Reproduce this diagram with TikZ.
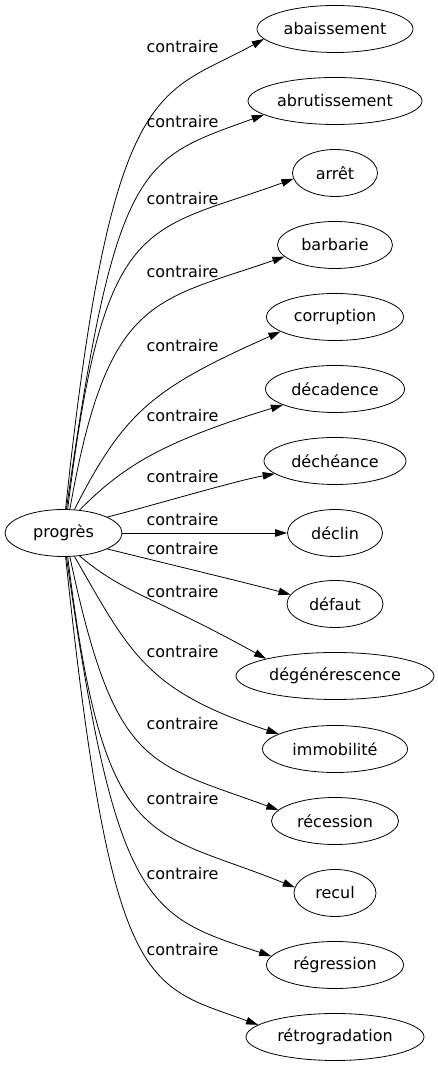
\documentclass[tikz,border=0pt]{standalone}
\usepackage{fontspec}
\setmainfont{DejaVu Sans}
\usepackage{tikz}
\usetikzlibrary{arrows.meta}
\usetikzlibrary{shapes.geometric}

\begin{document}
\begin{tikzpicture}[x=1pt,y=1pt,
	word/.style={ellipse,draw=black,line width=0.8pt,inner sep=0pt,minimum height=47pt,font=\fontsize{16}{19}\selectfont},
	rel/.style={font=\fontsize{16}{19}\selectfont,inner sep=0pt},
	edge/.style={draw=black,line width=0.8pt,-{Triangle[length=12pt,width=7.5pt]}}]
		\useasboundingbox (0,0) rectangle (438,1067);
		%elements
		\node [word, minimum width=117pt] at (63.5,534) (prog) {progrès};

		\node [word, minimum width=156pt] at (335,1038) (abai) {abaissement};
		\node [word, minimum width=174pt] at (335,966) (abru) {abrutissement};
		\node [word, minimum width=85pt] at (335,894) (arret) {arrêt};
		\node [word, minimum width=115pt] at (335,822) (barb) {barbarie};
		\node [word, minimum width=137pt] at (335,750) (corr) {corruption};
		\node [word, minimum width=139pt] at (335,678) (deca) {décadence};
		\node [word, minimum width=142pt] at (335,606) (dech) {déchéance};
		\node [word, minimum width=95pt] at (335,534) (decl) {déclin};
		\node [word, minimum width=96pt] at (335,463) (defa) {défaut};
		\node [word, minimum width=198pt] at (335,391) (dege) {dégénérescence};
		\node [word, minimum width=145pt] at (335,318) (immo) {immobilité};
		\node [word, minimum width=127pt] at (335,246) (rece) {récession};
		\node [word, minimum width=82pt] at (335,174) (recul) {recul};
		\node [word, minimum width=137pt] at (335,102) (regr) {régression};
		\node [word, minimum width=178pt] at (335,30) (retro) {rétrogradation};

		%text
		\node [rel] at (182.5,1020) (l1) {contraire};
		\node [rel] at (182.5,945) (l2) {contraire};
		\node [rel] at (182.5,868) (l3) {contraire};
		\node [rel] at (182.5,795) (l4) {contraire};
		\node [rel] at (182.5,721) (l5) {contraire};
		\node [rel] at (182.5,651) (l6) {contraire};
		\node [rel] at (182.5,590) (l7) {contraire};
		\node [rel] at (182.5,547) (l8) {contraire};
		\node [rel] at (182.5,518) (l9) {contraire};
		\node [rel] at (182.5,475) (l10) {contraire};
		\node [rel] at (182.5,415) (l11) {contraire};
		\node [rel] at (182.5,343) (l12) {contraire};
		\node [rel] at (182.5,268) (l13) {contraire};
		\node [rel] at (182.5,193) (l14) {contraire};
		\node [rel] at (182.5,117) (l15) {contraire};

		%edges
		\draw [edge] (prog.85) to [out=84,in=209,out distance=440pt,in distance=120pt] (abai.188);
		\draw [edge] (prog.83) to [out=82,in=200,out distance=355pt,in distance=130pt] (abru.191);
		\draw [edge] (prog.80) to [out=83,in=200,out distance=300pt,in distance=160pt] (arret.188);
		\draw [edge] (prog.75) to [out=80,in=199,out distance=216pt,in distance=140pt] (barb.193);
		\draw [edge] (prog.65) to [out=63,in=204,out distance=110pt,in distance=140pt] (corr.195);
		\draw [edge] (prog.55) to [out=45,in=197,out distance=60pt,in distance=130pt] (deca.197);
		\draw [edge] (prog.20) to [out=14,in=190,out distance=40pt,in distance=40pt] (dech.192);
		\draw [edge] (prog) -- (decl);
		\draw [edge] (prog.-20) to [out=-14,in=165,out distance=40pt,in distance=40pt] (defa.168);
		\draw [edge] (prog.-55) to [out=-40,in=151,out distance=60pt,in distance=130pt] (dege.166);
		\draw [edge] (prog.-65) to [out=-60,in=162,out distance=110pt,in distance=140pt] (immo.165);
		\draw [edge] (prog.-75) to [out=-78,in=160,out distance=216pt,in distance=140pt] (rece.169);
		\draw [edge] (prog.-80) to [out=-83,in=158,out distance=300pt,in distance=160pt] (recul.172);
		\draw [edge] (prog.-83) to [out=-82,in=162,out distance=355pt,in distance=130pt] (regr.172);
		\draw [edge] (prog.-85) to [out=-84,in=160,out distance=440pt,in distance=120pt] (retro.171);
		\end{tikzpicture}
\end{document}
